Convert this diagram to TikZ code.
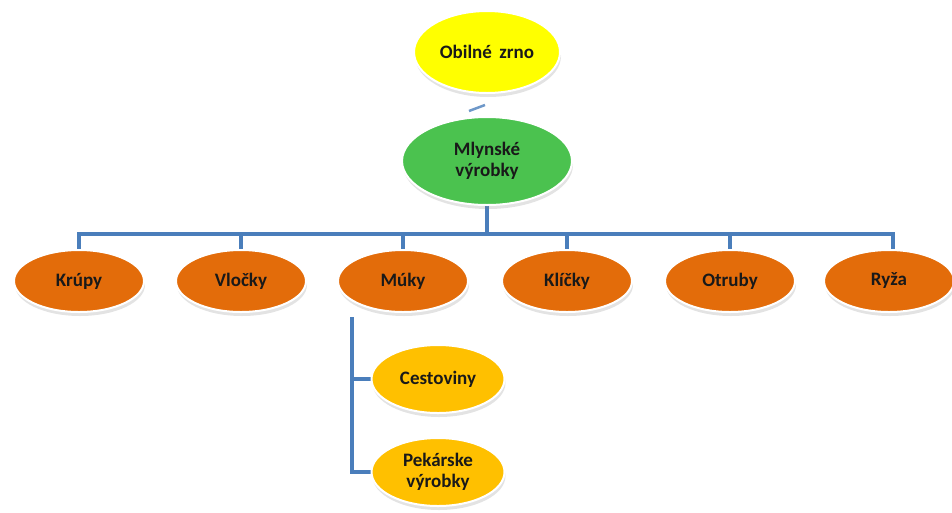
\documentclass[tikz,border=0pt]{standalone}
\usepackage{fontspec}
\setmainfont{Carlito}
\usetikzlibrary{shapes.geometric,shadows}
\definecolor{cyel}{HTML}{FFFF00}
\definecolor{cgreen}{HTML}{4BC24F}
\definecolor{corange}{HTML}{E36C0A}
\definecolor{camber}{HTML}{FFC000}
\definecolor{cblue}{HTML}{4A7EBB}
\tikzset{
  bub/.style={ellipse, draw=white, line width=2pt, inner sep=0pt, align=center,
     font=\fontsize{19}{21}\selectfont\bfseries, text=black!90,
     drop shadow={opacity=0.22, shadow xshift=1pt, shadow yshift=-4pt}},
  lvl0/.style={bub, fill=cyel, minimum width=146pt, minimum height=82pt},
  lvl1/.style={bub, fill=cgreen, minimum width=170pt, minimum height=88pt},
  lvl2/.style={bub, fill=corange, minimum width=130pt, minimum height=62pt},
  lvl3/.style={bub, fill=camber, minimum width=133pt, minimum height=68pt},
  conn/.style={draw=cblue, line width=3.5pt}
}
\begin{document}
\begin{tikzpicture}[x=1pt,y=-1pt]
\useasboundingbox (0,0) rectangle (952,512);
% connectors
\coordinate (bus) at (487,234);
\draw[conn] (487,205) -- (bus);
\draw[conn] (79,252) |- (893,234) -- (893,252);
\foreach \x in {241,403,567,730} \draw[conn] (\x,234) -- (\x,252);
\draw[conn] (352,317) |- (374,472);
\draw[conn] (352,379) -- (374,379);
\draw[draw=cblue, line width=2.5pt, opacity=0.8] (469,111) -- (485,105);
% nodes
\node[lvl0] (zrno) at (487,52) {Obilné\, zrno};
\node[lvl1] (mly) at (487,161) {Mlynské\\výrobky};
\node[lvl2] (krupy) at (79,281) {Krúpy};
\node[lvl2] (vlocky) at (241,281) {Vločky};
\node[lvl2] (muky) at (403,281) {Múky};
\node[lvl2] (klicky) at (567,281) {Klíčky};
\node[lvl2] (otruby) at (730,281) {Otruby};
\node[lvl2] (ryza) at (889,281) {Ryža};
\node[lvl3] (cest) at (438,379) {Cestoviny};
\node[lvl3] (pek) at (438,472) {Pekárske\\výrobky};
\end{tikzpicture}
\end{document}
